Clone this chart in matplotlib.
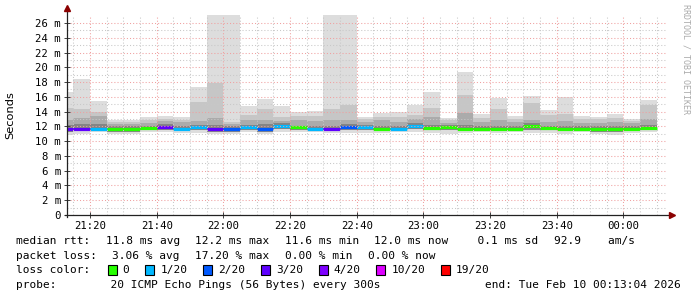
import numpy as np
import matplotlib
matplotlib.use("Agg")
import matplotlib.pyplot as plt
from matplotlib.patches import Rectangle

# ---------------- data ----------------
# 5-minute bins, start minute measured from 21:00 (first bin 21:10-21:15)
bin_start_min = [10 + 5 * i for i in range(36)]
x_view = (13 + 4 / 60, 193 + 4 / 60)          # 21:13:04 .. 00:13:04

rtt_max = [16.7, 18.4, 15.4, 12.9, 12.9, 13.3, 13.4, 13.3, 17.3, 28.0, 28.0, 14.7,
           15.7, 14.7, 13.9, 14.1, 28.0, 28.0, 13.3, 13.8, 13.9, 14.9, 16.6, 13.2,
           19.4, 13.7, 15.9, 13.4, 16.1, 14.2, 16.0, 13.4, 13.3, 13.7, 13.0, 15.6]
rtt_hi1 = [14.5, 14.4, 14.0, 12.6, 12.6, 12.9, 13.0, 12.9, 15.3, 17.9, 12.6, 13.5,
           14.4, 13.3, 13.4, 13.4, 14.4, 14.9, 13.0, 13.3, 13.3, 13.5, 14.5, 12.9,
           16.2, 13.2, 14.4, 13.0, 15.1, 13.5, 13.7, 13.0, 13.0, 13.2, 12.7, 14.9]
rtt_hi2 = [12.9, 13.1, 13.4, 12.3, 12.3, 12.5, 12.7, 12.6, 12.7, 13.2, 12.3, 12.8,
           12.9, 12.7, 12.8, 12.7, 12.8, 12.8, 12.6, 12.9, 12.6, 13.0, 13.3, 12.5,
           13.8, 12.6, 12.9, 12.6, 12.9, 12.6, 12.7, 12.5, 12.5, 12.6, 12.4, 13.0]
rtt_hi3 = [12.2, 12.3, 12.3, 12.0, 12.0, 12.1, 12.3, 12.1, 12.2, 12.2, 12.0, 12.2,
           12.3, 12.4, 12.1, 12.0, 12.1, 12.3, 12.2, 12.1, 12.0, 12.5, 12.2, 12.2,
           12.2, 12.1, 12.1, 12.1, 12.4, 12.1, 12.0, 12.0, 12.0, 12.0, 12.0, 12.2]
rtt_median = [11.6, 11.7, 11.7, 11.7, 11.6, 11.8, 11.9, 11.7, 11.9, 11.7, 11.6, 11.9,
              11.7, 12.1, 11.9, 11.6, 11.7, 11.9, 11.9, 11.7, 11.6, 12.1, 11.8, 11.9,
              11.7, 11.7, 11.7, 11.7, 12.0, 11.8, 11.7, 11.7, 11.7, 11.7, 11.7, 11.8]
rtt_lo = [11.3, 11.4, 11.4, 11.3, 11.3, 11.5, 11.5, 11.4, 11.5, 11.3, 11.3, 11.5,
          11.3, 11.6, 11.5, 11.4, 11.4, 11.5, 11.5, 11.4, 11.4, 11.6, 11.5, 11.5,
          11.4, 11.5, 11.4, 11.4, 11.5, 11.5, 11.4, 11.4, 11.2, 11.3, 11.4, 11.5]
rtt_min = [10.8, 11.0, 11.2, 10.9, 11.0, 11.2, 11.2, 11.1, 11.1, 11.0, 11.0, 11.2,
           11.0, 11.3, 11.2, 11.2, 11.1, 11.1, 11.1, 11.1, 11.2, 11.2, 11.1, 11.0,
           11.1, 11.2, 11.1, 11.2, 11.1, 11.1, 10.9, 11.2, 11.0, 10.8, 11.1, 11.2]
loss_count = [3, 3, 1, 0, 0, 0, 3, 1, 1, 3, 2, 1, 2, 1, 0, 1, 3, 2, 1, 0, 1, 1,
              0, 0, 0, 0, 0, 0, 0, 0, 0, 0, 0, 0, 0, 0]

loss_levels = [0, 1, 2, 3, 4, 10, 19]
loss_labels = ["0", "1/20", "2/20", "3/20", "4/20", "10/20", "19/20"]
loss_colors = ["#26ff00", "#00b8ff", "#0059ff", "#5e00ff", "#7e00ff", "#dd00ff", "#ff0000"]

xtick_min = [20, 40, 60, 80, 100, 120, 140, 160, 180]
xtick_labels = ["21:20", "21:40", "22:00", "22:20", "22:40", "23:00", "23:20", "23:40", "00:00"]
ytick_vals = list(range(0, 27, 2))
ytick_labels = ["0"] + [f"{v} m" for v in range(2, 27, 2)]
y_top = 27.08

legend_line1 = ["median rtt:", "11.8 ms avg", "12.2 ms max", "11.6 ms min",
                "12.0 ms now", "  0.1 ms sd", "92.9    am/s"]
legend_line2 = ["packet loss:", "3.06 % avg", "17.20 % max", "0.00 % min", "0.00 % now"]
legend_loss_title = "loss color:"
legend_probe = "probe:        20 ICMP Echo Pings (56 Bytes) every 300s"
legend_end = "end: Tue Feb 10 00:13:04 2026"

# ---------------- figure ----------------
W, H = 697, 297
fig = plt.figure(figsize=(W / 100, H / 100), dpi=100)
fig.patch.set_facecolor("white")
ax = fig.add_axes([67 / W, (H - 215) / H, 600 / W, 200 / H])
ax.set_facecolor("white")

x0 = np.array(bin_start_min, dtype=float)
smoke = [
    (rtt_min, rtt_max, "#dddddd"),
    (rtt_lo, rtt_hi1, "#c6c6c6"),
    (rtt_lo, rtt_hi2, "#ababab"),
    (rtt_lo, rtt_hi3, "#858585"),
]
for lo, hi, col in smoke:
    lo = np.array(lo)
    hi = np.array(hi)
    ax.bar(x0, hi - lo, bottom=lo, width=5, align="edge", color=col,
           linewidth=0, zorder=1)

def loss_color(n):
    c = loss_colors[0]
    for lvl, col in zip(loss_levels, loss_colors):
        if n >= lvl:
            c = col
    return c

ax.hlines(rtt_median, x0, x0 + 5, colors=[loss_color(n) for n in loss_count],
          linewidth=2.3, zorder=2)

ax.set_xlim(*x_view)
ax.set_ylim(0, y_top)
ax.set_xticks(xtick_min)
ax.set_xticklabels(xtick_labels)
ax.set_xticks(np.arange(15, 195, 5), minor=True)
ax.set_yticks(ytick_vals)
ax.set_yticklabels(ytick_labels)
ax.set_yticks(np.arange(1, 27, 1), minor=True)

mono = "DejaVu Sans Mono"
for lab in ax.get_xticklabels() + ax.get_yticklabels():
    lab.set_fontfamily(mono)
    lab.set_fontsize(7.7)
    lab.set_color("#000000")

ax.grid(which="minor", color="#c8c8c8", linestyle=(0, (1, 2)), linewidth=0.75)
ax.grid(which="major", color="#f0a0a0", linestyle=(0, (1, 2)), linewidth=0.75)
ax.set_axisbelow(False)
ax.tick_params(which="major", direction="inout", length=4, width=0.7, color="#404040")
ax.tick_params(axis="y", which="major", pad=2.5)
ax.tick_params(axis="x", which="major", pad=2.0)
ax.tick_params(which="minor", length=0)

for s in ax.spines.values():
    s.set_visible(False)
ax.plot([0, 0], [-0.012, 1.03], transform=ax.transAxes, color="#222222",
        linewidth=0.9, clip_on=False, zorder=5)
ax.plot([-0.004, 1.006], [0, 0], transform=ax.transAxes, color="#222222",
        linewidth=0.9, clip_on=False, zorder=5)
ax.plot([0], [1.033], marker="^", markersize=4.5, color="#8b0000",
        transform=ax.transAxes, clip_on=False, zorder=6)
ax.plot([1.008], [0], marker=">", markersize=4.5, color="#8b0000",
        transform=ax.transAxes, clip_on=False, zorder=6)

def px(x, y):
    return x / W, 1 - y / H

fig.text(*px(10, 115), "Seconds", rotation=90, ha="center", va="center",
         fontsize=8.2, family="DejaVu Sans", color="#000000")
fig.text(*px(686, 4), "RRDTOOL / TOBI OETIKER", rotation=270, ha="center", va="top",
         fontsize=6.0, family=mono, color="#aaaaaa")

# rrdtool-like legend packing: monospace 8pt, 16px between items
LEG_FS = 8.0
CW = 0.6021 * LEG_FS * 100 / 72      # char advance in px
GAP = 16
LEFT = 16

def put(x, y, t):
    fig.text(*px(x, y), t, ha="left", va="center", fontsize=LEG_FS, family=mono,
             color="#000000")

for ry, items in ((241, legend_line1), (256, legend_line2)):
    x = LEFT
    for t in items:
        put(x, ry, t)
        x += len(t) * CW + GAP

ly = 270
put(LEFT, ly, legend_loss_title)
x = LEFT + len(legend_loss_title) * CW + GAP + 2
for lab, col in zip(loss_labels, loss_colors):
    fig.patches.append(Rectangle((x / W, 1 - (ly + 5) / H), 9 / W, 10 / H,
                                 transform=fig.transFigure, facecolor=col,
                                 edgecolor="#000000", linewidth=0.8))
    put(x + 15, ly, lab)
    x += 15 + len(lab) * CW + GAP

put(LEFT, 285, legend_probe)
fig.text(*px(W - 16, 285), legend_end, ha="right", va="center", fontsize=LEG_FS,
         family=mono, color="#000000")

fig.savefig("out.png", dpi=100, facecolor="white")
